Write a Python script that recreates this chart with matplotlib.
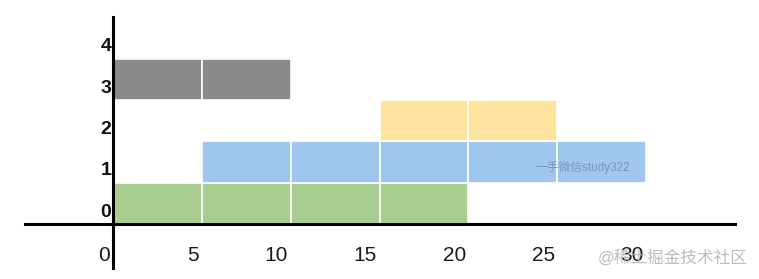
import numpy as np
import matplotlib
matplotlib.use("Agg")
import matplotlib.pyplot as plt

plt.rcParams['font.family'] = ['Liberation Sans', 'Noto Sans CJK SC', 'DejaVu Sans']

# rows of the timeline (row index, start, end, colour)
rows = [0, 1, 2, 3]
starts = [0, 5, 15, 0]
ends = [20, 30, 25, 10]
colors = ['#a8cd90', '#9fc6ef', '#fee39e', '#8b898a']
x_ticks = [0, 5, 10, 15, 20, 25, 30]
y_ticks = [0, 1, 2, 3, 4]
block = 5

fig = plt.figure(figsize=(7.59, 2.79), dpi=100)
ax = fig.add_axes([0, 0, 1, 1])
ax.set_xlim(-6.36, 36.35)
ax.set_ylim(-1.33, 5.42)
ax.axis('off')

for r, s, e, c in zip(rows, starts, ends, colors):
    lefts = np.arange(s, e, block)
    ax.barh([r] * len(lefts), [block] * len(lefts), left=lefts, height=1,
            align='edge', color=c, edgecolor='white', linewidth=1.2, zorder=2)

# hand-drawn style axes
ax.plot([-4.95, 35.0], [0, 0], color='black', lw=2.2, zorder=3)
ax.plot([0, 0], [-1.07, 5.01], color='black', lw=2.2, zorder=3)

for t in x_ticks:
    ax.text(t - 0.15, -0.77, str(t), ha='right', va='center', fontsize=15, color='#1a1a1a')
for t in y_ticks:
    ax.text(-0.1, t + 0.29, str(t), ha='right', va='center', fontsize=14,
            fontweight='bold', color='#111111')

# watermarks
ax.text(23.75, 1.36, '一手微信study322', ha='left', va='center', fontsize=8.5,
        color='#6f8aae', alpha=0.8, zorder=4)
ax.text(35.7, -0.82, '@稀土掘金技术社区', ha='right', va='center', fontsize=12,
        color='#b5b5b5', alpha=0.9, zorder=4)

fig.savefig('out.png', dpi=100)
